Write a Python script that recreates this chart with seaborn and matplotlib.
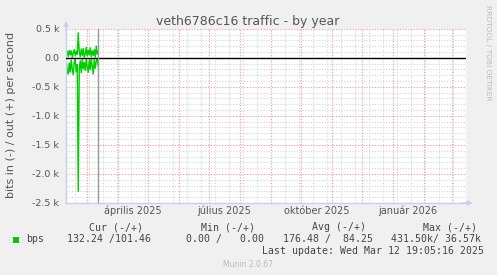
import matplotlib
matplotlib.use("Agg")
import matplotlib.pyplot as plt
import matplotlib.dates as mdates
import matplotlib.transforms as mtransforms
from matplotlib.patches import Rectangle
from matplotlib.ticker import FixedLocator, MultipleLocator, NullFormatter
import numpy as np
import pandas as pd
import seaborn as sns

# ---------------- data ----------------
dates = pd.date_range("2025-02-08", "2025-03-12", freq="D")
out_bits = [40, 110, 20, 130, 50, 120, 10, 80, 140, 30, 110, 60, 430, 100, 20,
            150, 40, 160, 10, 60, 180, 30, 130, 50, 170, 20, 120, 40, 140, 10,
            200, 60, 120]
in_bits = [60, 220, 280, 90, 250, 40, 200, 290, 70, 30, 240, 120, 2300, 200, 50,
           260, 30, 190, 80, 220, 20, 170, 250, 40, 200, 10, 150, 280, 30, 180,
           60, 20, 150]
x_start = "2025-02-07 18:00"
x_end = "2026-03-14 18:00"
now = "2025-03-12"
y_ticks = [-2500, -2000, -1500, -1000, -500, 0, 500]
y_tick_labels = ["-2.5 k", "-2.0 k", "-1.5 k", "-1.0 k", "-0.5 k", "0.0", "0.5 k"]
x_label_dates = ["2025-04-16", "2025-07-16", "2025-10-16", "2026-01-16"]
x_tick_labels = ["április 2025", "július 2025", "október 2025", "január 2026"]
title = "veth6786c16 traffic - by year"
y_label = "bits in (-) / out (+) per second"
legend_name = "bps"
legend_headers = ["Cur (-/+)", "Min (-/+)", "Avg (-/+)", "Max (-/+)"]
legend_values = ["132.24 /101.46", "0.00 /   0.00", "176.48 /  84.25", "431.50k/ 36.57k"]
last_update = "Last update: Wed Mar 12 19:05:16 2025"
footer = "Munin 2.0.67"
watermark = "RRDTOOL / TOBI OETIKER"

# ---------------- style ----------------
sns.set_theme(style="white")
plt.rcParams['font.family'] = ['DejaVu Sans']

W, H = 497, 275
GREEN = "#00CC00"
TXT = "#555555"
AXC = "#C8D0F0"

fig = plt.figure(figsize=(W / 100, H / 100), dpi=100, facecolor="#F0F0F0")
ax = fig.add_axes([66 / W, (H - 203) / H, 400 / W, (203 - 28.7) / H])
ax.set_facecolor("white")

df = pd.DataFrame({"date": dates, "out": out_bits, "in": -np.array(in_bits)})
sns.lineplot(data=df, x="date", y="out", ax=ax, color=GREEN, lw=1)
sns.lineplot(data=df, x="date", y="in", ax=ax, color=GREEN, lw=1)
ax.set_xlabel("")
ax.set_ylabel("")

ax.set_xlim(pd.Timestamp(x_start), pd.Timestamp(x_end))
ax.set_ylim(min(y_ticks), max(y_ticks))

# grid
ax.xaxis.set_major_locator(mdates.MonthLocator())
ax.xaxis.set_minor_locator(mdates.WeekdayLocator(byweekday=mdates.MO, interval=2))
ax.xaxis.set_major_formatter(NullFormatter())
ax.yaxis.set_major_locator(FixedLocator(y_ticks))
ax.yaxis.set_minor_locator(MultipleLocator(100))
ax.set_yticklabels(y_tick_labels)
ax.grid(which="minor", color="#D4D4D4", ls=(0, (1, 1.5)), lw=0.8)
ax.grid(which="major", color="#EE9A9A", ls=(0, (1, 1.5)), lw=0.8)
ax.set_axisbelow(True)
ax.tick_params(which="both", length=0)
ax.tick_params(axis="y", labelsize=6.8, labelcolor=TXT, pad=5)

# zero line and "now" line
ax.axhline(0, color="black", lw=1, zorder=3)
ax.axvline(pd.Timestamp(now), color="#999999", lw=1, zorder=3)

# spines / arrows
for s in ["top", "right"]:
    ax.spines[s].set_visible(False)
for s in ["left", "bottom"]:
    ax.spines[s].set_color(AXC)
    ax.spines[s].set_linewidth(1)
ax.annotate("", xy=(0, 1.045), xytext=(0, 0.99), xycoords="axes fraction",
            arrowprops=dict(arrowstyle="-|>", color=AXC, lw=1, mutation_scale=7,
                            shrinkA=0, shrinkB=0), annotation_clip=False)
ax.annotate("", xy=(1.017, 0), xytext=(0.99, 0), xycoords="axes fraction",
            arrowprops=dict(arrowstyle="-|>", color=AXC, lw=1, mutation_scale=7,
                            shrinkA=0, shrinkB=0), annotation_clip=False)

# x labels (centered mid-month)
trans = mtransforms.blended_transform_factory(ax.transData, ax.transAxes)
for d, lab in zip(x_label_dates, x_tick_labels):
    ax.text(pd.Timestamp(d), -(214 - 203) / 174.3, lab, transform=trans,
            ha="center", va="baseline", fontsize=7, color=TXT)

def fx(x):
    return x / W

def fy(y):
    return 1 - y / H

fig.text(fx(248), fy(25), title, ha="center", va="baseline", fontsize=9, color=TXT)
fig.text(fx(11), fy(114.5), y_label, rotation=90, ha="center", va="center",
         fontsize=8, color=TXT)
fig.text(fx(488), fy(5), watermark, rotation=270, ha="center", va="top",
         fontsize=5.4, color="#BBBBBB")

# legend
mono = dict(family="DejaVu Sans Mono", fontsize=7.1, color="#444444", va="baseline")
fig.add_artist(Rectangle((fx(13), fy(242.5)), 6 / W, 6 / H, transform=fig.transFigure,
                         color=GREEN, lw=0))
fig.text(fx(26), fy(242.3), legend_name, **mono)
for x, h in zip([89, 201, 312, 423], legend_headers):
    fig.text(fx(x), fy(230), h, **mono)
for x, v in zip([67, 186, 283, 391], legend_values):
    fig.text(fx(x), fy(242.3), v, **mono)
fig.text(fx(262), fy(254.3), last_update, **mono)
fig.text(fx(248), fy(266.7), footer, ha="center", va="baseline", fontsize=5.5,
         color="#BBBBBB")

fig.savefig("out.png", dpi=100, facecolor=fig.get_facecolor())
